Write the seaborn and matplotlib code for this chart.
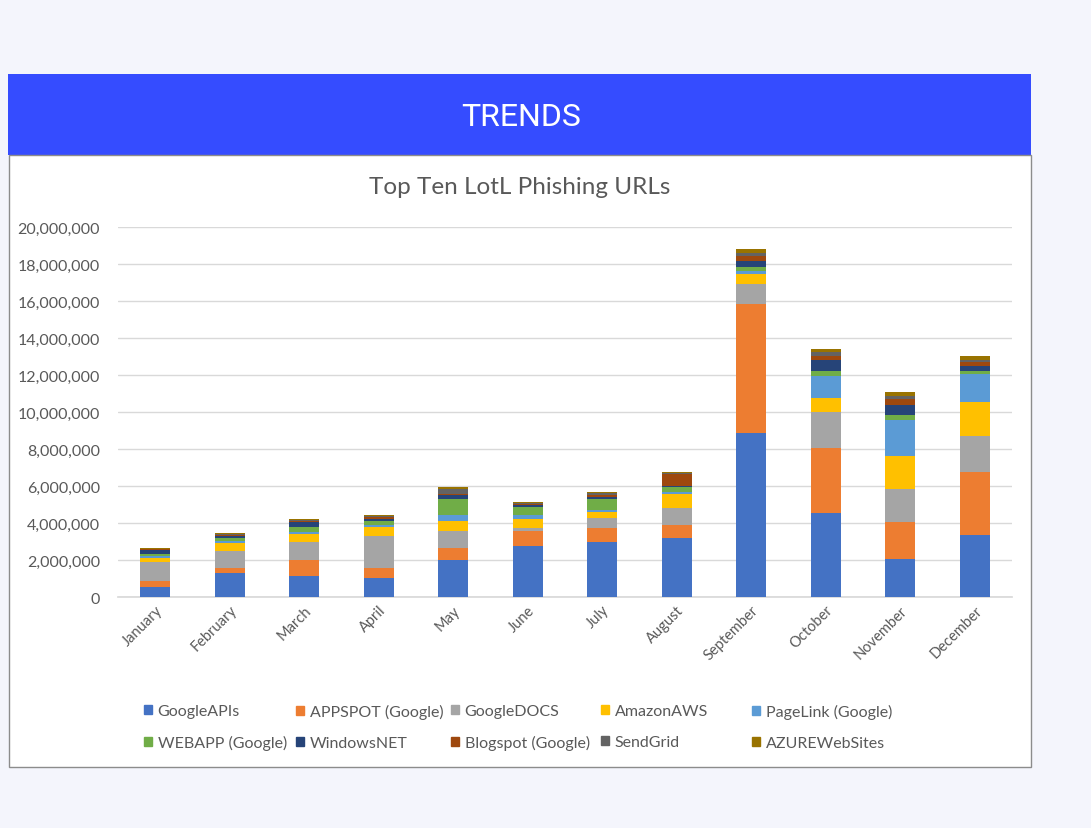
import matplotlib
matplotlib.use("Agg")
import matplotlib.pyplot as plt
import matplotlib.patches as mpatches
import numpy as np
import pandas as pd
import seaborn as sns

months = ["January", "February", "March", "April", "May", "June", "July",
          "August", "September", "October", "November", "December"]

series_names = ["GoogleAPIs", "APPSPOT (Google)", "GoogleDOCS", "AmazonAWS",
                "PageLink (Google)", "WEBAPP (Google)", "WindowsNET",
                "Blogspot (Google)", "SendGrid", "AZUREWebSites"]

google_apis = [550000, 1280000, 1150000, 1050000, 2020000, 2770000, 3000000, 3170000, 8860000, 4540000, 2050000, 3370000]
appspot     = [330000, 300000, 850000, 520000, 610000, 780000, 720000, 720000, 6970000, 3500000, 2020000, 3400000]
google_docs = [1020000, 900000, 950000, 1750000, 950000, 160000, 540000, 900000, 1080000, 1980000, 1770000, 1950000]
amazon_aws  = [230000, 430000, 450000, 450000, 540000, 500000, 360000, 770000, 540000, 720000, 1800000, 1840000]
pagelink    = [80000, 100000, 130000, 130000, 310000, 230000, 100000, 90000, 180000, 1230000, 1950000, 1500000]
webapp      = [100000, 180000, 230000, 230000, 860000, 400000, 580000, 300000, 230000, 250000, 250000, 180000]
windows_net = [230000, 120000, 270000, 90000, 220000, 130000, 120000, 50000, 310000, 590000, 540000, 230000]
blogspot    = [40000, 50000, 70000, 80000, 60000, 60000, 100000, 630000, 270000, 230000, 320000, 250000]
sendgrid    = [40000, 60000, 70000, 70000, 290000, 60000, 80000, 70000, 140000, 180000, 180000, 110000]
azure       = [30000, 40000, 60000, 70000, 100000, 60000, 60000, 70000, 250000, 180000, 220000, 180000]

values = [google_apis, appspot, google_docs, amazon_aws, pagelink, webapp,
          windows_net, blogspot, sendgrid, azure]

colors = ["#4472C4", "#ED7D31", "#A5A5A5", "#FFC000", "#5B9BD5",
          "#70AD47", "#264478", "#9E480E", "#636363", "#997300"]

sns.set_theme(style="white")
plt.rcParams["font.family"] = ["Lato", "DejaVu Sans"]

W, H = 1091, 829
fig = plt.figure(figsize=(W / 100, H / 100), dpi=100, facecolor="#f4f5fc")

# banner
fig.patches.append(mpatches.Rectangle((8 / W, 1 - 156 / H), (1031 - 8) / W, (156 - 75) / H,
                                      transform=fig.transFigure, facecolor="#354cff",
                                      edgecolor="none", zorder=-10))
# white panel
fig.patches.append(mpatches.Rectangle((8.5 / W, 1 - 768 / H), (1031 - 8.5) / W, (768 - 156) / H,
                                      transform=fig.transFigure, facecolor="white",
                                      edgecolor="#8c8c8c", linewidth=1, zorder=-10))
fig.text(521 / W, 1 - 117 / H, "TRENDS", color="white", fontsize=23,
         family=["Roboto", "DejaVu Sans"], ha="center", va="center")
fig.text(520 / W, 1 - 188 / H, "Top Ten LotL Phishing URLs", color="#595959",
         fontsize=17.5, ha="center", va="center")

ax = fig.add_axes([118 / W, 1 - 598 / H, (1012 - 118) / W, (598 - 228) / H])
ax.set_zorder(5)
ax.set_facecolor("white")

df = pd.DataFrame({"month": months})
bottom = np.zeros(len(months))
handles = []
for name, vals, col in zip(series_names, values, colors):
    df["v"] = vals
    sns.barplot(data=df, x="month", y="v", bottom=bottom, color=col, width=0.4,
                saturation=1, ax=ax, label=name, zorder=3, linewidth=0,
                edgecolor=col)
    bottom = bottom + np.array(vals)
    handles.append(mpatches.Patch(color=col, label=name))

ax.set_ylim(0, 20000000)
ax.set_xlim(-0.5, len(months) - 0.5)
ticks = np.arange(0, 20000001, 2000000)
ax.set_yticks(ticks)
ax.set_yticklabels([f"{int(v):,}" for v in ticks])
ax.yaxis.grid(True, color="#d9d9d9", linewidth=1, zorder=0)
ax.set_axisbelow(True)
for s in ["top", "right", "left"]:
    ax.spines[s].set_visible(False)
ax.spines["bottom"].set_color("#d9d9d9")
ax.set_xlabel("")
ax.set_ylabel("")
ax.tick_params(axis="y", labelsize=11.5, colors="#595959", length=0, pad=13)
ax.tick_params(axis="x", labelsize=10.5, colors="#595959", length=0, pad=4)
for lab in ax.get_xticklabels():
    lab.set_rotation(45)
    lab.set_ha("right")
    lab.set_rotation_mode("anchor")

if ax.get_legend() is not None:
    ax.get_legend().remove()

col_x = [144, 296, 451, 601, 752]
for c, x in enumerate(col_x):
    idx = [c, c + 5]
    fig.legend([handles[i] for i in idx], [series_names[i] for i in idx],
               ncol=1, loc="upper left", bbox_to_anchor=(x / W, 1 - 705 / H),
               frameon=False, fontsize=11.5, labelcolor="#595959",
               handlelength=0.5, handleheight=0.5, handletextpad=0.35,
               labelspacing=1.05, borderaxespad=0, borderpad=0)

fig.savefig("out.png", dpi=100, facecolor=fig.get_facecolor())
